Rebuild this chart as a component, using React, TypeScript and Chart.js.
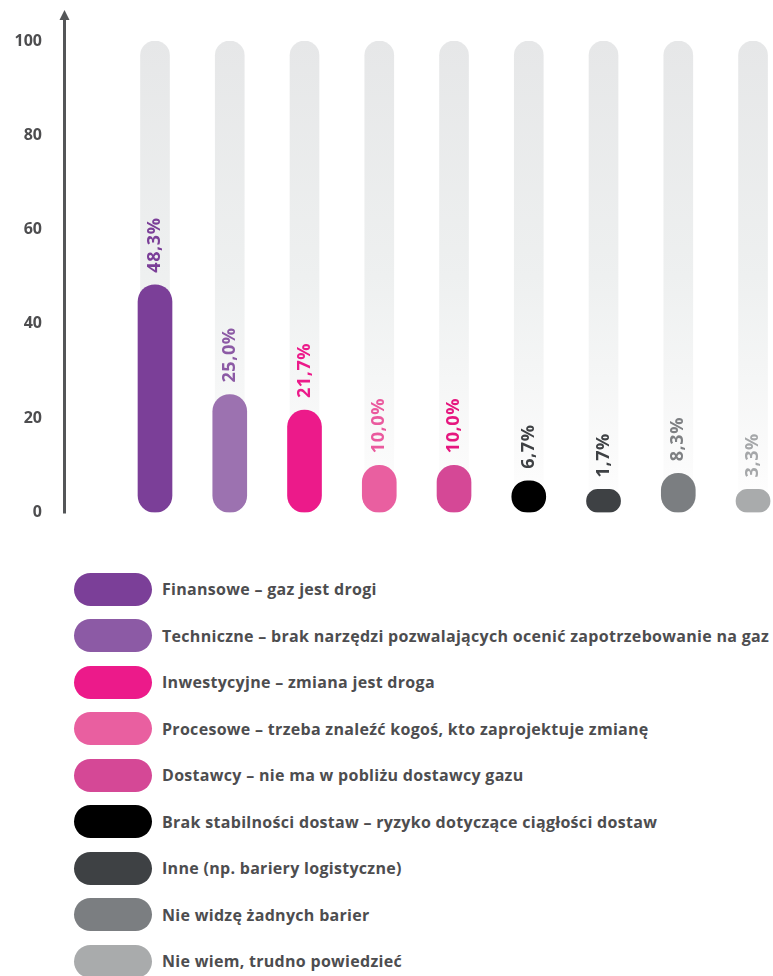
import React, { useEffect, useRef } from "react";
import { Chart, registerables } from "chart.js";

Chart.register(...registerables);

const categories = [
  "Finansowe – gaz jest drogi",
  "Techniczne – brak narzędzi pozwalających ocenić zapotrzebowanie na gaz",
  "Inwestycyjne – zmiana jest droga",
  "Procesowe – trzeba znaleźć kogoś, kto zaprojektuje zmianę",
  "Dostawcy – nie ma w pobliżu dostawcy gazu",
  "Brak stabilności dostaw – ryzyko dotyczące ciągłości dostaw",
  "Inne (np. bariery logistyczne)",
  "Nie widzę żadnych barier",
  "Nie wiem, trudno powiedzieć",
];
const values = [48.3, 25.0, 21.7, 10.0, 10.0, 6.7, 1.7, 8.3, 3.3];
const valueLabels = ["48,3%", "25,0%", "21,7%", "10,0%", "10,0%", "6,7%", "1,7%", "8,3%", "3,3%"];
const barColors = ["#7b3f98", "#9c72b0", "#ec1a8a", "#e95fa0", "#d54896", "#000000", "#3e4144", "#7b7e81", "#a9abac"];
const legendColors = ["#7b3f98", "#8c5aa5", "#ec1a8a", "#e95fa0", "#d54896", "#000000", "#3e4144", "#7b7e81", "#a9abac"];
const labelColors = ["#7b3f98", "#8c5aa5", "#ec1a8a", "#ea5a9e", "#e6177f", "#3e4144", "#3e4144", "#7e8083", "#a5a7a9"];
const yTicks = [0, 20, 40, 60, 80, 100];
const scaleMax = 100;

const FONT = "'Open Sans', 'Noto Sans', sans-serif";
const TEXT = "#4d4d4f";

const axisArrow = {
  id: "axisArrow",
  afterDraw(chart: any) {
    const { ctx, chartArea, scales } = chart;
    const y = scales.y;
    const x = chartArea.left - 0.5;
    const bottom = y.getPixelForValue(0) + 1;
    const tip = chartArea.top - 31;
    ctx.save();
    ctx.strokeStyle = "#545658";
    ctx.fillStyle = "#545658";
    ctx.lineWidth = 3;
    ctx.beginPath();
    ctx.moveTo(x, bottom);
    ctx.lineTo(x, tip + 8);
    ctx.stroke();
    ctx.beginPath();
    ctx.moveTo(x, tip);
    ctx.lineTo(x - 5, tip + 10);
    ctx.lineTo(x + 5, tip + 10);
    ctx.closePath();
    ctx.fill();
    ctx.restore();
  },
};

const valueLabelPlugin = {
  id: "valueLabels",
  afterDatasetsDraw(chart: any) {
    const { ctx } = chart;
    const meta = chart.getDatasetMeta(0);
    ctx.save();
    ctx.font = `700 18px ${FONT}`;
    (ctx as any).letterSpacing = "0.6px";
    ctx.textAlign = "left";
    ctx.textBaseline = "middle";
    meta.data.forEach((el: any, i: number) => {
      ctx.save();
      ctx.translate(el.x, el.y - 12);
      ctx.rotate(-Math.PI / 2);
      ctx.fillStyle = labelColors[i];
      ctx.fillText(valueLabels[i], 0, 0);
      ctx.restore();
    });
    ctx.restore();
  },
};

export default function App() {
  const ref = useRef<HTMLCanvasElement>(null);

  useEffect(() => {
    if (!ref.current) return;
    const chart = new Chart(ref.current, {
      type: "bar",
      data: {
        datasets: [
          {
            data: values.map((v, i) => ({ x: i, y: v })),
            backgroundColor: barColors,
            barThickness: 34,
            borderRadius: 17,
            borderSkipped: false,
            minBarLength: 23,
            grouped: false,
            order: 0,
          } as any,
          {
            data: categories.map((_, i) => ({ x: i, y: scaleMax })),
            backgroundColor: (c: any) => {
              const { chart } = c;
              const area = chart.chartArea;
              if (!area) return "#eeeeef";
              const g = chart.ctx.createLinearGradient(0, area.top, 0, area.bottom);
              g.addColorStop(0, "#e6e7e8");
              g.addColorStop(0.5, "#eef0f0");
              g.addColorStop(0.9, "#fbfbfb");
              g.addColorStop(1, "#ffffff");
              return g;
            },
            barThickness: 29,
            borderRadius: 15,
            grouped: false,
            order: 1,
          } as any,
        ],
      },
      options: {
        animation: false,
        responsive: false,
        maintainAspectRatio: false,
        devicePixelRatio: 1,
        layout: { padding: { top: 41, bottom: 24, left: 0, right: 0 } },
        plugins: { legend: { display: false }, tooltip: { enabled: false } },
        scales: {
          x: {
            type: "linear",
            display: false,
            offset: false,
            grid: { offset: false },
            min: -1.204,
            max: 8.267,
          },
          y: {
            min: 0,
            max: scaleMax,
            afterFit: (s: any) => {
              s.width = 65;
            },
            afterBuildTicks: (s: any) => {
              s.ticks = yTicks.map((v) => ({ value: v }));
            },
            grid: { display: false, drawTicks: false },
            border: { display: false },
            ticks: {
              padding: 23,
              color: TEXT,
              font: { family: FONT, size: 16, weight: "700" as any },
            },
          },
        },
      } as any,
      plugins: [axisArrow, valueLabelPlugin],
    });
    return () => chart.destroy();
  }, []);

  return (
    <div style={{ position: "absolute", left: 0, top: 0, width: 773, height: 976, background: "#fff" }}>
      <canvas ref={ref} width={773} height={545} style={{ position: "absolute", left: 0, top: 0, width: 773, height: 545 }} />
      {categories.map((c, i) => (
        <div
          key={c}
          style={{
            position: "absolute",
            left: 74,
            top: 589 + 46.5 * i - 16.5,
            height: 33,
            display: "flex",
            alignItems: "center",
            whiteSpace: "nowrap",
          }}
        >
          <div style={{ width: 78, height: 33, borderRadius: 16.5, background: legendColors[i], flex: "none" }} />
          <span
            style={{
              marginLeft: 10,
              fontFamily: FONT,
              fontWeight: 700,
              fontSize: 16,
              letterSpacing: 0.3,
              color: TEXT,
            }}
          >
            {c}
          </span>
        </div>
      ))}
    </div>
  );
}
